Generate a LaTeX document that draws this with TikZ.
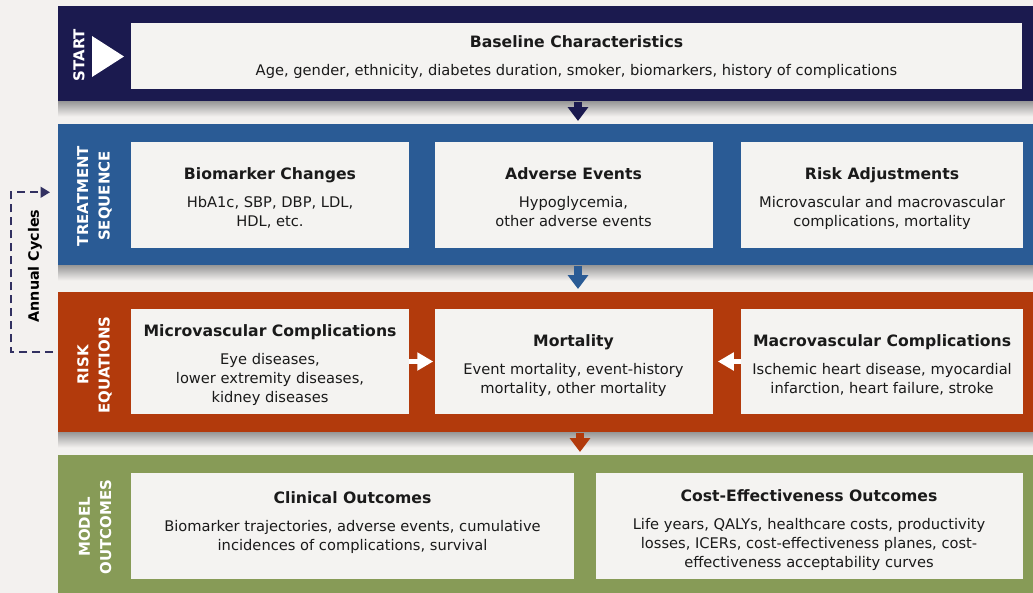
\documentclass[tikz,border=0pt]{standalone}
\usepackage{fontspec}
\setmainfont{DejaVu Sans}
\usetikzlibrary{arrows.meta, positioning, calc}

\definecolor{bgc}{HTML}{F3F1EF}
\definecolor{navyc}{HTML}{1B1A4F}
\definecolor{bluec}{HTML}{2A5B95}
\definecolor{rustc}{HTML}{B23A0C}
\definecolor{greenc}{HTML}{879B57}
\definecolor{boxc}{HTML}{F4F3F1}
\definecolor{txtc}{HTML}{1A1A1A}

\newdimen\pxu \pxu=0.75pt
\newcommand{\titlef}{\fontsize{11.75}{14.25}\selectfont\bfseries}
\newcommand{\bodyf}{\fontsize{11}{14.25}\selectfont}
% optional arg: move the text down (px), negative moves it up
\newcommand{\boxtext}[3][0]{%
  {\titlef\ifdim#1pt>0pt\rule{0pt}{\dimexpr 9pt+#1\pxu*2\relax}\fi #2}\\[6.75pt]%
  #3\ifdim#1pt<0pt\rule[\dimexpr #1\pxu*2-2.6pt\relax]{0pt}{\dimexpr 2.6pt-#1\pxu*2\relax}\fi}

\begin{document}
\begin{tikzpicture}[
  x=0.75pt, y=-0.75pt,
  band/.style={rectangle, inner sep=0pt, minimum width=975\pxu, anchor=north west},
  infobox/.style={rectangle, fill=boxc, inner sep=0pt, minimum height=106\pxu, minimum width=278\pxu, align=center, text=txtc, font=\bodyf},
  sidelabel/.style={text=white, font=\fontsize{11.2}{16}\selectfont\bfseries, align=center, rotate=90},
  downarrow/.style={line width=8\pxu, -{Triangle[width=15pt, length=10.5pt]}, shorten >=3\pxu},
  sidearrow/.style={white, line width=5\pxu, -{Triangle[width=13pt, length=12pt]}},
  cyclearrow/.style={draw=navyc!90, line width=1.5pt, dash pattern=on 6pt off 3.75pt, -{Triangle[width=8pt, length=7pt]}}
]
\fill[bgc] (0,0) rectangle (1033,593);
\useasboundingbox (0,0) rectangle (1033,593);

% Bands
\node (startband) [band, fill=navyc, minimum height=95\pxu] at (58,6) {};
\node (treatband) [band, fill=bluec, minimum height=141\pxu] at (58,124) {};
\node (riskband) [band, fill=rustc, minimum height=140\pxu] at (58,292) {};
\node (modelband) [band, fill=greenc, minimum height=138\pxu] at (58,455) {};
\foreach \b in {startband, treatband, riskband}
  \shade[top color=black!40, bottom color=bgc] (\b.south west) rectangle ($(\b.south east)+(0,15)$);

% Band labels
\node (startlbl) [sidelabel] at (79,55) {START};
\fill[white] (92,36) -- (124,56.5) -- (92,77) -- cycle;
\node (treatlbl) [sidelabel] at (94.5,196) {TREATMENT\\SEQUENCE};
\node (risklbl) [sidelabel] at (94.5,365) {RISK\\EQUATIONS};
\node (modellbl) [sidelabel] at (95,527) {MODEL\\OUTCOMES};

% Start
\node (base) [infobox, minimum width=891\pxu, minimum height=66\pxu] at (576.5,56)
  {\boxtext[1.5]{Baseline Characteristics}{Age, gender, ethnicity, diabetes duration, smoker, biomarkers, history of complications}};

% Treatment sequence
\node (bio) [infobox] at (270,195) {\boxtext[2.5]{Biomarker Changes}{HbA1c, SBP, DBP, LDL,\\HDL, etc.}};
\node (adverse) [infobox, right=25\pxu of bio] {\boxtext[2]{Adverse Events}{Hypoglycemia,\\other adverse events}};
\node (riskadj) [infobox, minimum width=282\pxu, right=28\pxu of adverse] {\boxtext[4]{Risk Adjustments}{Microvascular and macrovascular\\complications, mortality}};

% Risk equations
\node (micro) [infobox, minimum height=105\pxu] at (270,361.5) {\boxtext[3.5]{Microvascular Complications}{Eye diseases,\\lower extremity diseases,\\kidney diseases}};
\node (mort) [infobox, minimum height=105\pxu, right=25\pxu of micro] {\boxtext[4.5]{Mortality}{Event mortality, event-history\\mortality, other mortality}};
\node (macro) [infobox, minimum height=105\pxu, minimum width=282\pxu, right=28\pxu of mort] {\boxtext[3.5]{Macrovascular Complications}{Ischemic heart disease, myocardial\\infarction, heart failure, stroke}};

% Model outcomes
\node (clin) [infobox, minimum width=443\pxu] at (352.5,526) {\boxtext[-3.5]{Clinical Outcomes}{Biomarker trajectories, adverse events, cumulative\\incidences of complications, survival}};
\node (cea) [infobox, minimum width=427\pxu, right=21\pxu of clin] {\boxtext[4]{Cost-Effectiveness Outcomes}{Life years, QALYs, healthcare costs, productivity\\losses, ICERs, cost-effectiveness planes, cost-\\effectiveness acceptability curves}};

% Arrows
\coordinate (ax) at (578,0);
\draw [downarrow, navyc] (startband.south -| ax) -- (treatband.north -| ax);
\draw [downarrow, bluec] (treatband.south -| ax) -- (riskband.north -| ax);
\draw [downarrow, rustc] ($(riskband.south -| ax)+(2,0)$) -- ($(modelband.north -| ax)+(2,0)$);
\draw [sidearrow, shorten >=1\pxu] (micro.east) -- (mort.west);
\draw [sidearrow, shorten >=5\pxu] (macro.west) -- (mort.east);

% Annual cycles
\node (cyclbl) [sidelabel, text=black, font=\fontsize{10.75}{14}\selectfont\bfseries] at (35,266) {Annual Cycles};
\draw [cyclearrow] ($(riskband.west)+(-5,-10)$) -- ++(-42,0) |- ($(treatband.west)+(-8,-2.5)$);

\end{tikzpicture}
\end{document}
